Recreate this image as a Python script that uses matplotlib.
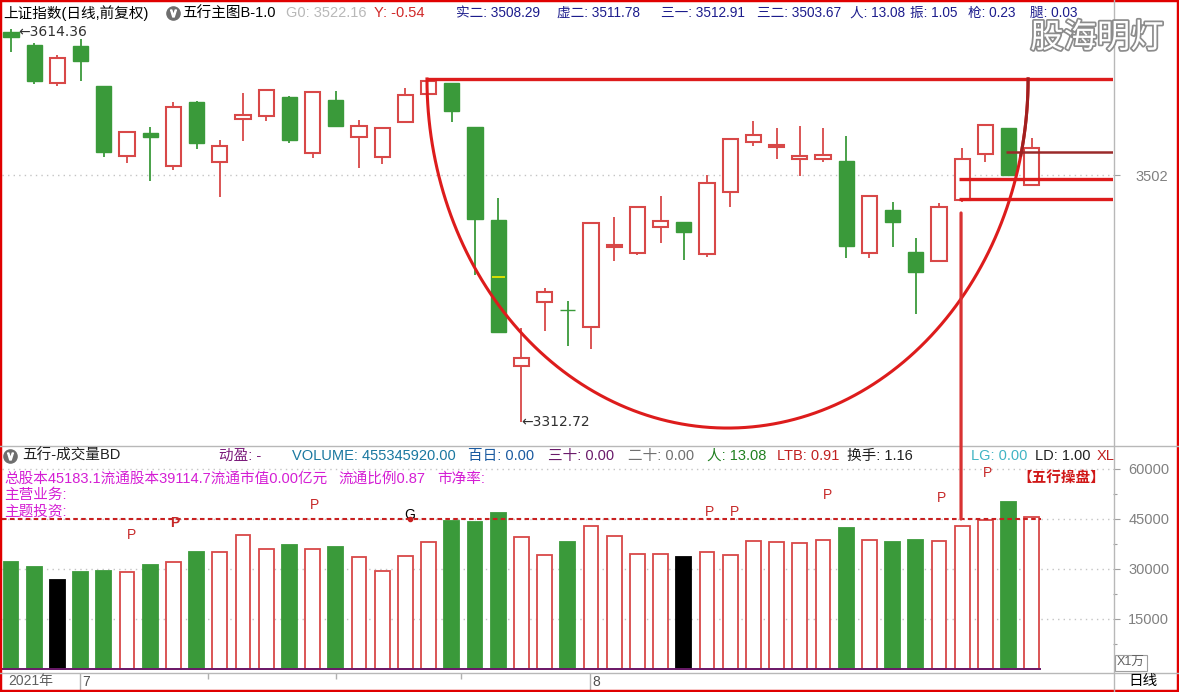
import numpy as np
import matplotlib
matplotlib.use('Agg')
import matplotlib.pyplot as plt
from matplotlib.patches import Rectangle, ConnectionPatch
from matplotlib.lines import Line2D
import matplotlib.patheffects as pe

plt.rcParams['font.family'] = ['Liberation Sans', 'Noto Sans CJK SC', 'DejaVu Sans']

# ---------------- data ----------------
opens = [3612.2, 3602.0, 3573.0, 3601.2, 3570.5, 3517.0, 3534.2, 3508.9, 3558.2, 3512.4,
         3545.0, 3547.7, 3562.1, 3519.3, 3559.8, 3531.2, 3515.8, 3543.1, 3564.4, 3572.6,
         3538.8, 3467.5, 3355.7, 3404.6, 3399.0, 3385.9, 3446.8, 3442.6, 3462.1, 3465.9,
         3441.6, 3489.0, 3527.3, 3523.5, 3514.3, 3514.3, 3513.0, 3442.6, 3475.4, 3442.9,
         3436.5, 3482.8, 3518.1, 3538.3, 3494.3]
highs = [3614.36, 3603.7, 3594.3, 3606.6, 3570.5, 3535.8, 3538.8, 3558.0, 3559.0, 3529.1,
         3565.4, 3567.8, 3562.6, 3566.3, 3566.7, 3544.4, 3538.8, 3568.7, 3575.9, 3573.0,
         3539.2, 3484.4, 3384.6, 3415.8, 3405.6, 3465.6, 3470.2, 3477.9, 3486.1, 3466.5,
         3502.2, 3530.5, 3543.7, 3538.1, 3539.8, 3538.1, 3532.2, 3486.9, 3481.7, 3453.7,
         3481.0, 3522.7, 3540.8, 3538.6, 3530.4]
lows = [3596.4, 3571.8, 3570.7, 3574.3, 3515.8, 3511.7, 3497.9, 3506.1, 3521.9, 3485.6,
        3528.5, 3543.9, 3527.0, 3515.5, 3539.3, 3507.8, 3510.4, 3543.1, 3564.0, 3543.1,
        3425.5, 3381.2, 3312.72, 3382.8, 3371.3, 3368.5, 3436.5, 3440.9, 3450.3, 3437.0,
        3439.6, 3477.9, 3524.7, 3514.3, 3501.7, 3512.4, 3438.8, 3438.8, 3447.2, 3395.4,
        3436.0, 3481.5, 3512.0, 3501.7, 3494.0]
closes = [3607.9, 3574.3, 3591.8, 3589.9, 3520.1, 3535.0, 3531.6, 3554.2, 3527.0, 3524.5,
          3548.0, 3567.2, 3529.3, 3565.9, 3540.1, 3539.6, 3538.1, 3563.4, 3574.6, 3551.6,
          3468.2, 3382.0, 3361.6, 3412.2, 3398.3, 3465.2, 3448.5, 3477.5, 3466.7, 3458.7,
          3495.9, 3530.1, 3532.7, 3525.2, 3516.6, 3517.3, 3448.0, 3486.1, 3466.4, 3428.0,
          3477.7, 3514.7, 3540.4, 3502.5, 3522.7]
volumes = [32100, 30600, 26700, 29100, 29400, 29100, 31200, 32000, 35100, 35000,
           40100, 36100, 37200, 36100, 36600, 33500, 29400, 33800, 38000, 44400,
           44100, 46800, 39500, 34100, 38200, 42800, 39800, 34600, 34600, 33600,
           35000, 34100, 38400, 38100, 37700, 38600, 42300, 38600, 38200, 38700,
           38400, 42800, 44600, 50100, 45535]
black_volume_idx = [2, 29]

price_ticks = [3502]
volume_ticks = [15000, 30000, 45000, 60000]
volume_minor = [7500, 22500, 37500, 52500]

month_labels = ['7', '8']
month_pos = [3, 25]
week_ticks = [8.5, 14, 19.4]

# markers in the volume panel
p_idx = [5.2, 7.07, 13.1, 30.1, 31.2, 35.2, 40.1, 42.1]
p_lvl = [40200, 43700, 49200, 47200, 47000, 52200, 51400, 58900]
g_idx, g_lvl = 17.2, 46200
vol_ref_level = 45000

# drawn overlay (cup + levels)
cup_left, cup_right, cup_level, cup_bottom = 17.93, 43.84, 3575.9, 3308.1
level_start = [40.86, 40.86, 42.9]
level_price = [3499.2, 3483.6, 3520.1]
vline_idx, vline_top = 40.95, 3473.1
yellow_idx, yellow_price = 21, 3424.2

# ---------------- figure ----------------
W, H = 1179, 692
fig = plt.figure(figsize=(W / 100, H / 100), dpi=100)
fig.patch.set_facecolor('white')


def fx(x):
    return x / W


def fy(y):
    return 1 - y / H


def rect(l, t, r, b):
    return [l / W, 1 - b / H, (r - l) / W, (b - t) / H]


ax1 = fig.add_axes(rect(2, 22, 1113, 445))
ax2 = fig.add_axes(rect(2, 447, 1113, 672))
ax3 = fig.add_axes(rect(2, 673, 1113, 690))
XL = (-0.388, 47.5)
for ax in (ax1, ax2, ax3):
    ax.set_xlim(*XL)
    for s in ax.spines.values():
        s.set_visible(False)
    ax.set_facecolor('none')
    ax.set_xticks([])
ax1.set_ylim(3295.1, 3619.6)
ax2.set_ylim(-900, 66600)
ax3.set_ylim(0, 1)
ax3.set_yticks([])

GREEN = '#3a9a3a'
RED = '#d84848'
GRID = '#c4c4c4'
x = np.arange(len(opens))
o = np.array(opens); c = np.array(closes); h = np.array(highs); l = np.array(lows)
up = c >= o
bw = 0.66

# candles
for i in range(len(x)):
    if up[i]:
        ax1.vlines(i, c[i], h[i], color=RED, lw=1.3, zorder=3)
        ax1.vlines(i, l[i], o[i], color=RED, lw=1.3, zorder=3)
    else:
        ax1.vlines(i, l[i], h[i], color=GREEN, lw=1.3, zorder=3)
ax1.bar(x[up], np.maximum(c[up] - o[up], 0.8), bottom=o[up], width=bw,
        facecolor='white', edgecolor=RED, lw=1.5, zorder=4)
ax1.bar(x[~up], o[~up] - c[~up], bottom=c[~up], width=bw,
        facecolor=GREEN, edgecolor=GREEN, lw=1, zorder=4)
ax1.hlines(yellow_price, yellow_idx - 0.28, yellow_idx + 0.28, color='#e6e600', lw=1.3, zorder=5)

ax1.axhline(price_ticks[0], color=GRID, lw=1, ls=(0, (1, 3)), zorder=1)
ax1.yaxis.tick_right()
ax1.set_yticks(price_ticks)
ax1.set_yticklabels([str(v) for v in price_ticks])
ax1.tick_params(axis='y', length=5, width=0.8, color='#a0a0a0', labelcolor='#808080',
                labelsize=10.5, pad=11)

ax1.text(0.3, highs[0] - 2.5, '←3614.36', fontsize=10, color='#303030', va='center', ha='left',
         family=['DejaVu Sans'])
ax1.text(22.0, lows[22], '←3312.72', fontsize=10, color='#303030', va='center', ha='left',
         family=['DejaVu Sans'])

# overlay: cup arc and levels
OVR = '#dd1c1c'
cx = (cup_left + cup_right) / 2
a = (cup_right - cup_left) / 2
b = cup_level - cup_bottom
th = np.linspace(np.pi, 2 * np.pi, 400)
ax1.plot(cx + a * np.cos(th), cup_level + b * np.sin(th), color=OVR, lw=2.2, zorder=6,
         clip_on=False)
th2 = np.linspace(1.93 * np.pi, 2 * np.pi, 50)
ax1.plot(cx + a * np.cos(th2), cup_level + b * np.sin(th2), color='#a02020', lw=2.2, zorder=7)
ax1.hlines(cup_level, cup_left, XL[1], color=OVR, lw=2.4, zorder=6)
for s_, p_, col, lw_ in zip(level_start, level_price, [OVR, OVR, '#9a2a2a'], [2.4, 2.4, 1.8]):
    ax1.hlines(p_, s_, XL[1], color=col, lw=lw_, zorder=6)

# volume
fc = []
ec = []
for i in range(len(x)):
    if i in black_volume_idx:
        fc.append('black'); ec.append('black')
    elif up[i]:
        fc.append('white'); ec.append(RED)
    else:
        fc.append(GREEN); ec.append(GREEN)
for v in volume_ticks:
    ax2.axhline(v, color=GRID, lw=1, ls=(0, (1, 3)), zorder=1)
ax2.bar(x, volumes, width=0.64, color=fc, edgecolor=ec, lw=1.3, zorder=3)
ax2.hlines(0, XL[0], len(x) - 0.6, color='#6a1a6a', lw=1.4, zorder=4)
ax2.hlines(vol_ref_level, XL[0], len(x) - 0.62, color='#c82020', lw=1.5,
           linestyles=(0, (2.2, 1.6)), zorder=5)
for pi_, pl_ in zip(p_idx, p_lvl):
    ax2.text(pi_, pl_, 'P', color='#c62828', fontsize=10, ha='center', va='center',
             weight='bold' if abs(pi_ - 7.07) < 0.01 else 'normal', zorder=6)
ax2.text(g_idx, g_lvl, 'G', color='black', fontsize=10, ha='center', va='center', zorder=6)
ax2.plot([g_idx], [vol_ref_level], 'o', color='#c82020', ms=3, zorder=6)
ax2.yaxis.tick_right()
ax2.set_yticks(volume_ticks)
ax2.set_yticklabels([str(v) for v in volume_ticks])
ax2.set_yticks(volume_minor, minor=True)
ax2.tick_params(axis='y', which='major', length=5, width=0.8, color='#a0a0a0',
                labelcolor='#808080', labelsize=10.5, pad=6)
ax2.tick_params(axis='y', which='minor', length=3, width=0.8, color='#a0a0a0')

con = ConnectionPatch(xyA=(vline_idx, vline_top), coordsA=ax1.transData,
                      xyB=(vline_idx, vol_ref_level), coordsB=ax2.transData,
                      color='#d83232', lw=2.3, zorder=10)
fig.add_artist(con)

# time axis
for mp, ml in zip(month_pos, month_labels):
    ax3.vlines(mp - 0.03, 0, 1, color='#b0b0b0', lw=1)
    ax3.text(mp + 0.08, 0.45, ml, fontsize=10, color='#505050', va='center', ha='left')
ax3.vlines(week_ticks, 0.65, 1, color='#b0b0b0', lw=1)
fig.text(fx(8), fy(681), '2021年', fontsize=10, color='#606060', va='center', ha='left')
fig.text(fx(1128), fy(681), '日线', fontsize=10.5, color='black', va='center', ha='left')
fig.text(fx(1117), fy(663), 'X1万', fontsize=9, color='#606060', va='center', ha='left',
         bbox=dict(boxstyle='square,pad=0.15', fc='white', ec='#a0a0a0', lw=0.8))

# panel separators
def fline(xs, ys, color='#b8b8b8', lw=1.0):
    fig.add_artist(Line2D([fx(v) for v in xs], [fy(v) for v in ys], color=color, lw=lw,
                          transform=fig.transFigure))


fline([0, W], [445.5, 445.5])
fline([0, W], [672.5, 672.5])
fline([1113.5, 1113.5], [0, H])

# header line of price panel
HY = 13
hdr = [(3, '上证指数(日线,前复权)', 'black', 10.5),
       (182, '五行主图B-1.0', 'black', 10.5),
       (286, 'G0: 3522.16', '#b8b8b8', 10.5),
       (374, 'Y: -0.54', '#d02828', 10.5),
       (456, '实二: 3508.29', '#1c1c8c', 9.8),
       (557, '虚二: 3511.78', '#1c1c8c', 9.8),
       (661, '三一: 3512.91', '#1c1c8c', 9.8),
       (757, '三二: 3503.67', '#1c1c8c', 9.8),
       (850, '人: 13.08', '#1c1c8c', 9.8),
       (910, '振: 1.05', '#1c1c8c', 9.8),
       (968, '枪: 0.23', '#1c1c8c', 9.8),
       (1030, '腿: 0.03', '#1c1c8c', 9.8)]
for xx, tt, cc, fs in hdr:
    fig.text(fx(xx), fy(HY), tt, fontsize=fs, color=cc, va='center', ha='left')

for (ix, iy) in [(173, 13), (10, 456)]:
    fig.add_artist(Line2D([fx(ix)], [fy(iy)], marker='o', ms=9.5, color='#6e6e6e',
                          transform=fig.transFigure))
    fig.add_artist(Line2D([fx(ix)], [fy(iy)], marker=r'$\vee$', ms=5, color='white',
                          transform=fig.transFigure))

# header of volume panel
VY = 456
vhdr = [(22, '五行-成交量BD', '#202020'),
        (219, '动盈: -', '#7a1a7a'),
        (292, 'VOLUME: 455345920.00', '#1a78a0'),
        (468, '百日: 0.00', '#1a5aa0'),
        (548, '三十: 0.00', '#6a1a6a'),
        (628, '二十: 0.00', '#707070'),
        (707, '人: 13.08', '#208020'),
        (777, 'LTB: 0.91', '#c02020'),
        (847, '换手: 1.16', '#202020'),
        (971, 'LG: 0.00', '#40b4c4'),
        (1035, 'LD: 1.00', '#202020'),
        (1097, 'XL', '#c02020')]
for xx, tt, cc in vhdr:
    fig.text(fx(xx), fy(VY), tt, fontsize=10.5, color=cc, va='center', ha='left')

MAG = '#d41ed4'
info = [(4, '总股本45183.1流通股本39114.7流通市值0.00亿元'),
        (338, '流通比例0.87'), (437, '市净率:')]
for xx, tt in info:
    fig.text(fx(xx), fy(479), tt, fontsize=10.5, color=MAG, va='center', ha='left')
fig.text(fx(4), fy(495), '主营业务:', fontsize=10.5, color=MAG, va='center', ha='left')
fig.text(fx(4), fy(511), '主题投资:', fontsize=10.5, color=MAG, va='center', ha='left')
fig.text(fx(1017), fy(479), '【五行操盘】', fontsize=10.5, color='#d01818', va='center',
         ha='left', weight='bold')

# watermark
fig.text(fx(1097), fy(38), '股海明灯', fontsize=24, color='white', ha='center', va='center',
         family=['Noto Sans CJK SC'],
         path_effects=[pe.withStroke(linewidth=2.5, foreground='#8c8c8c')])

# red frame
fig.add_artist(Rectangle((0, 0), 1, 1, transform=fig.transFigure, fill=False,
                         edgecolor='#e00000', lw=3.2))

fig.savefig('out.png', dpi=100, facecolor='white')
